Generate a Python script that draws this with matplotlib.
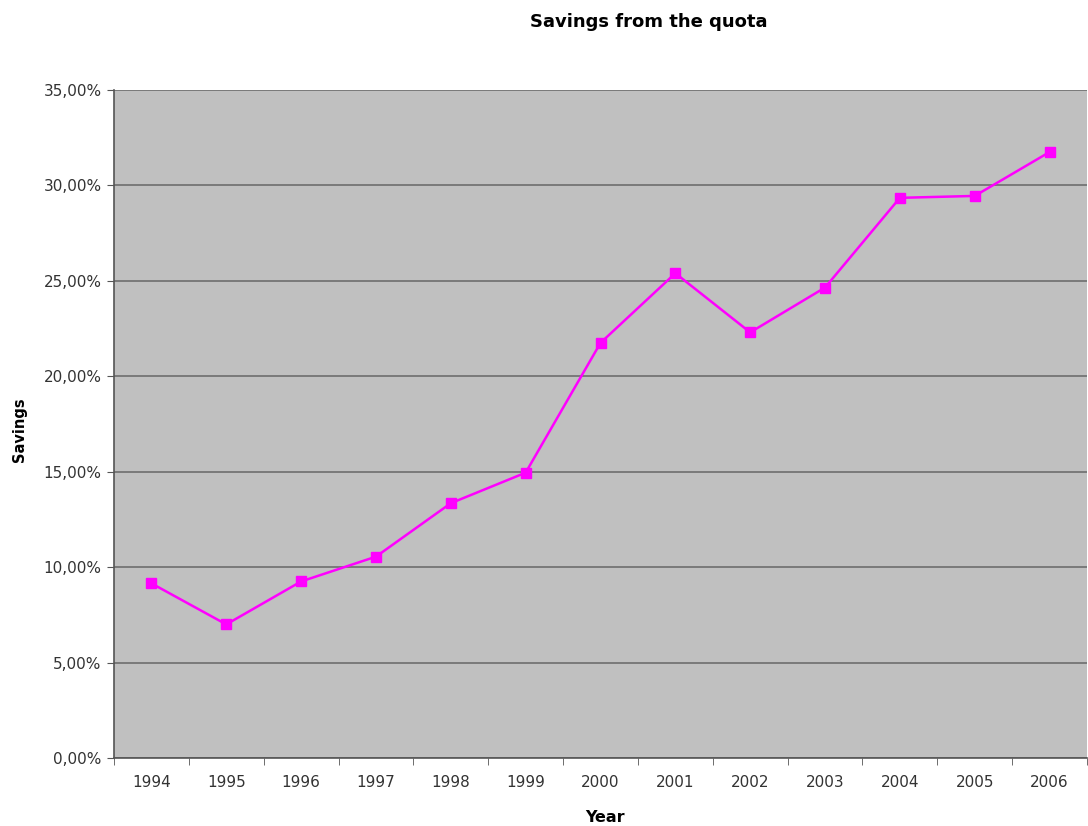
import matplotlib

matplotlib.use("Agg")
import matplotlib.pyplot as plt
import numpy as np
from matplotlib.ticker import FixedLocator, FuncFormatter

years = ["1994", "1995", "1996", "1997", "1998", "1999", "2000",
         "2001", "2002", "2003", "2004", "2005", "2006"]
savings = [9.15, 7.0, 9.25, 10.55, 13.35, 14.95, 21.75,
           25.4, 22.3, 24.65, 29.35, 29.45, 31.75]

plt.rcParams["font.family"] = ["DejaVu Sans"]

fig = plt.figure(figsize=(10.88, 8.26), dpi=100)
ax = fig.add_axes([114 / 1088, 68 / 826, 973 / 1088, 668 / 826])
ax.set_facecolor("#c0c0c0")

x = np.arange(len(years))
ax.plot(x, savings, color="#ff00ff", linewidth=1.8, marker="s",
        markersize=7, markerfacecolor="#ff00ff", markeredgecolor="#ff00ff",
        zorder=3)

ax.set_xlim(-0.5, len(years) - 0.5)
ax.set_ylim(0, 35)
ax.set_yticks(np.arange(0, 36, 5))
ax.yaxis.set_major_formatter(FuncFormatter(lambda v, _: f"{v:.2f}%".replace(".", ",")))
ax.grid(axis="y", color="#6e6e6e", linewidth=1.2)
ax.set_axisbelow(True)

ax.set_xticks(x)
ax.set_xticklabels(years)
ax.xaxis.set_minor_locator(FixedLocator(np.arange(-0.5, len(years), 1)))
ax.tick_params(axis="x", which="major", length=0, pad=12, labelsize=11,
               colors="#333333")
ax.tick_params(axis="x", which="minor", length=5, color="#555555")
ax.tick_params(axis="y", length=5, color="#555555", labelsize=11,
               labelcolor="#333333", pad=4)

for side in ["left", "bottom"]:
    ax.spines[side].set_color("#555555")
    ax.spines[side].set_linewidth(1.2)
for side in ["top", "right"]:
    ax.spines[side].set_visible(False)

fig.text(649 / 1088, 1 - 22 / 826, "Savings from the quota", ha="center",
         va="center", fontsize=13, fontweight="bold")
fig.text(605 / 1088, 1 - 818 / 826, "Year", ha="center", va="center",
         fontsize=11.5, fontweight="bold")
fig.text(20 / 1088, 1 - 430 / 826, "Savings", ha="center", va="center",
         rotation=90, fontsize=10.5, fontweight="bold")

fig.savefig("out.png", dpi=100)
